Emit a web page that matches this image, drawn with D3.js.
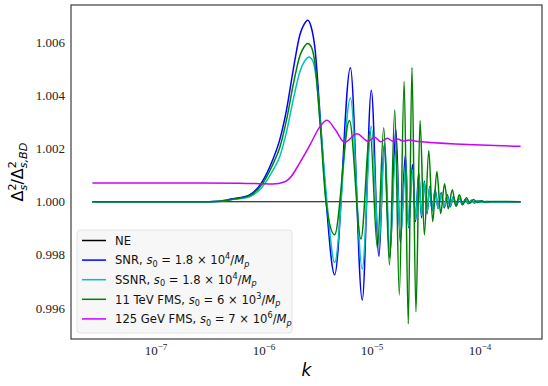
<!DOCTYPE html>
<html>
<head>
<meta charset="utf-8">
<script src="https://cdn.jsdelivr.net/npm/d3@7"></script>
<style>
    html, body { margin: 0; padding: 0; background: #fff; }
    svg { display: block; }
</style>
</head>
<body>
<div id="chart"></div>
<script>
// values: k and Delta_s^2 / Delta_{s,BD}^2

const kNE = [2.6e-8, 2.4e-4];
const vNE = [1.0, 1.0];

const kSNR = [2.6e-8, 2.53e-7, 3.89e-7, 5.14e-7, 7.41e-7, 9.59e-7, 1.216e-6, 1.413e-6, 1.633e-6, 1.884e-6,
    2.173e-6, 2.371e-6, 2.564e-6, 2.754e-6, 2.999e-6, 3.342e-6, 3.802e-6,
    4.55e-6, 6.37e-6, 8.20e-6, 9.95e-6, 1.172e-5, 1.309e-5, 1.476e-5, 1.679e-5, 1.849e-5, 2.056e-5,
    2.203e-5, 2.393e-5, 2.553e-5, 2.735e-5, 2.904e-5, 3.083e-5, 3.266e-5, 3.451e-5, 3.638e-5, 3.881e-5,
    4.140e-5, 4.416e-5, 4.710e-5, 5.023e-5, 5.358e-5, 5.715e-5, 6.095e-5, 6.501e-5, 6.934e-5, 7.396e-5,
    7.889e-5, 8.414e-5, 8.974e-5, 9.57e-5, 1.044e-4, 2.4e-4];
const vSNR = [1.0, 1.0, 1.00002, 1.00011, 1.00026, 1.00072, 1.00158, 1.00234, 1.00347, 1.00498,
    1.00630, 1.00668, 1.00684, 1.00660, 1.00574, 1.00321, 1.00000,
    0.99725, 1.00505, 0.99630, 1.00420, 0.99794, 1.00215, 0.99789, 1.00274, 0.99845, 1.00177,
    0.99902, 1.00140, 0.99925, 1.00109, 0.99940, 1.00077, 0.99955, 1.00057, 0.99966, 1.00045,
    0.99974, 1.00034, 0.99977, 1.00026, 0.99981, 1.00019, 0.99985, 1.00013, 0.99989, 1.00009,
    0.99992, 1.00006, 0.99995, 1.00003, 1.0, 1.0];

const kSSNR = [2.6e-8, 2.53e-7, 3.89e-7, 5.14e-7, 7.41e-7, 9.59e-7, 1.216e-6, 1.413e-6, 1.633e-6, 1.884e-6,
    2.173e-6, 2.421e-6, 2.636e-6, 2.844e-6, 3.069e-6, 3.412e-6, 3.882e-6,
    4.55e-6, 6.37e-6, 8.20e-6, 9.95e-6, 1.172e-5, 1.324e-5, 1.476e-5, 1.679e-5, 1.849e-5, 2.08e-5,
    2.203e-5, 2.393e-5, 2.553e-5, 2.754e-5, 2.904e-5, 3.083e-5, 3.266e-5, 3.451e-5, 3.638e-5, 3.881e-5,
    4.140e-5, 4.416e-5, 4.710e-5, 5.023e-5, 5.358e-5, 5.715e-5, 6.095e-5, 6.501e-5, 6.934e-5, 7.396e-5,
    7.889e-5, 8.414e-5, 8.974e-5, 9.57e-5, 1.044e-4, 1.161e-4, 1.294e-4, 2.4e-4];
const vSSNR = [1.0, 1.0, 1.00001, 1.00008, 1.00019, 1.00053, 1.00117, 1.0017, 1.00264, 1.00385,
    1.00491, 1.00532, 1.00545, 1.00532, 1.00468, 1.0026, 0.99992,
    0.99771, 1.00391, 0.99747, 1.00284, 0.99838, 1.00221, 0.99819, 1.00190, 0.99868, 1.00140,
    0.99906, 1.00121, 0.99932, 1.00094, 0.99947, 1.00072, 0.99958, 1.00054, 0.99968, 1.00040,
    0.99975, 1.00030, 0.99980, 1.00022, 0.99984, 1.00016, 0.99988, 1.00012, 0.99991, 1.00008,
    0.99994, 1.00005, 0.99996, 1.00003, 0.99998, 1.00002, 0.99999, 1.0];

const kFMS11 = [2.6e-8, 2.53e-7, 3.89e-7, 5.14e-7, 7.41e-7, 9.59e-7, 1.216e-6, 1.413e-6, 1.633e-6, 1.884e-6,
    2.173e-6, 2.371e-6, 2.564e-6, 2.754e-6, 2.999e-6, 3.342e-6, 3.802e-6,
    4.55e-6, 6.24e-6, 7.98e-6, 9.70e-6, 1.132e-5, 1.297e-5, 1.466e-5, 1.641e-5, 1.807e-5, 2.004e-5,
    2.188e-5, 2.366e-5, 2.576e-5, 2.812e-5, 3.083e-5, 3.388e-5, 3.681e-5, 4.027e-5, 4.365e-5, 4.742e-5,
    5.129e-5, 5.598e-5, 6.026e-5, 6.501e-5, 7.015e-5, 7.568e-5, 8.147e-5, 8.79e-5, 9.57e-5, 1.044e-4,
    1.138e-4, 1.294e-4, 2.4e-4];
const vFMS11 = [1.0, 1.0, 1.00002, 1.00009, 1.00023, 1.00064, 1.0014, 1.00204, 1.00309, 1.00442,
    1.00551, 1.00583, 1.00596, 1.00585, 1.00517, 1.00291, 0.99992,
    0.99876, 1.00306, 0.99860, 1.00265, 0.99826, 1.00279, 0.99762, 1.00347, 0.99649, 1.00453,
    0.99540, 1.00506, 0.99585, 1.00306, 0.99875, 1.00193, 0.99925, 1.00114, 0.99955, 1.00068,
    0.99974, 1.00045, 0.99983, 1.00026, 0.99990, 1.00015, 0.99994, 1.00008, 0.99997, 1.00004,
    0.99998, 1.00001, 1.0];

const kFMS125 = [2.6e-8, 2.53e-7, 5.98e-7, 9.20e-7, 1.216e-6, 1.574e-6, 1.75e-6, 2.17e-6, 2.70e-6, 3.34e-6,
    3.86e-6, 4.61e-6, 5.64e-6, 7.36e-6, 9.25e-6, 1.074e-5, 1.213e-5, 1.403e-5, 1.574e-5, 1.75e-5,
    1.95e-5, 2.22e-5, 2.576e-5, 2.4e-4];
const vFMS125 = [1.00071, 1.00071, 1.00070, 1.00068, 1.000665, 1.00075, 1.00089, 1.00147, 1.00215, 1.00284,
    1.00307, 1.00272, 1.00224, 1.00256, 1.00228, 1.00243, 1.00226, 1.00239, 1.00228, 1.00236,
    1.00229, 1.00233, 1.00228, 1.00209];

const xTicks = [1e-7, 1e-6, 1e-5, 1e-4];
const xTickExp = ['\u22127', '\u22126', '\u22125', '\u22124'];
const yTicks = [0.996, 0.998, 1.000, 1.002, 1.004, 1.006];

// legend labels as pieces of math text
const labelNE = [{ t: 'NE' }];
const labelSNR = [{ t: 'SNR,  ' }, { t: 's', it: true }, { t: '0', sub: true }, { t: ' = 1.8 \u00d7 10' }, { t: '4', sup: true }, { t: '/' }, { t: 'M', it: true }, { t: 'p', sub: true, it: true }];
const labelSSNR = [{ t: 'SSNR,  ' }, { t: 's', it: true }, { t: '0', sub: true }, { t: ' = 1.8 \u00d7 10' }, { t: '4', sup: true }, { t: '/' }, { t: 'M', it: true }, { t: 'p', sub: true, it: true }];
const labelFMS11 = [{ t: '11 TeV FMS,  ' }, { t: 's', it: true }, { t: '0', sub: true }, { t: ' = 6 \u00d7 10' }, { t: '3', sup: true }, { t: '/' }, { t: 'M', it: true }, { t: 'p', sub: true, it: true }];
const labelFMS125 = [{ t: '125 GeV FMS,  ' }, { t: 's', it: true }, { t: '0', sub: true }, { t: ' = 7 \u00d7 10' }, { t: '6', sup: true }, { t: '/' }, { t: 'M', it: true }, { t: 'p', sub: true, it: true }];

const series = [
    { k: kNE, v: vNE, color: '#000000', width: 1.2, label: labelNE },
    { k: kSNR, v: vSNR, color: '#0000ff', width: 1.5, label: labelSNR },
    { k: kSSNR, v: vSSNR, color: '#00c0c0', width: 1.5, label: labelSSNR },
    { k: kFMS11, v: vFMS11, color: '#008000', width: 1.5, label: labelFMS11 },
    { k: kFMS125, v: vFMS125, color: '#cc00ff', width: 1.5, label: labelFMS125 },
];

const dimensions = {
    width: 548,
    height: 386,
    marginTop: 5,
    marginRight: 6,
    marginBottom: 47,
    marginLeft: 71,
};

const sansFont = "'DejaVu Sans', sans-serif";
const serifFont = "'Liberation Serif', 'DejaVu Serif', serif";

/* write text with sub/superscripts as tspans */
const addMath = (text, parts, size) => {
    let shift = 0;
    parts.forEach(p => {
        const target = p.sub ? 0.22 * size : p.sup ? -0.42 * size : 0;
        const ts = text.append('tspan').text(p.t).attr('dy', target - shift);
        if (p.sub || p.sup) ts.attr('font-size', size * 0.7);
        if (p.it) ts.attr('font-style', 'italic');
        if (p.dx) ts.attr('dx', p.dx);
        shift = target;
    });
};

const draw = () => {
    const svg = d3
        .select('#chart')
        .append('svg')
        .attr('width', dimensions.width)
        .attr('height', dimensions.height)
        .attr('viewBox', `0 0 ${dimensions.width} ${dimensions.height}`);

    const left = dimensions.marginLeft;
    const right = dimensions.width - dimensions.marginRight;
    const top = dimensions.marginTop;
    const bottom = dimensions.height - dimensions.marginBottom;

    /* matplotlib style 5% margins around the data */
    const allK = series.flatMap(s => s.k);
    const allV = series.flatMap(s => s.v);
    const [kMin, kMax] = d3.extent(allK);
    const [vMin, vMax] = d3.extent(allV);
    const lk0 = Math.log10(kMin);
    const lk1 = Math.log10(kMax);
    const padK = (lk1 - lk0) * 0.05;
    const padV = (vMax - vMin) * 0.05;

    const xScale = d3
        .scaleLog()
        .domain([Math.pow(10, lk0 - padK), Math.pow(10, lk1 + padK)])
        .range([left, right]);

    const yScale = d3
        .scaleLinear()
        .domain([vMin - padV, vMax + padV])
        .range([bottom, top]);

    svg.append('defs')
        .append('clipPath')
        .attr('id', 'plot-clip')
        .append('rect')
        .attr('x', left)
        .attr('y', top)
        .attr('width', right - left)
        .attr('height', bottom - top);

    const lineGenerator = d3
        .line()
        .x(d => xScale(d[0]))
        .y(d => yScale(d[1]))
        .curve(d3.curveMonotoneX);

    const lines = svg.append('g').attr('clip-path', 'url(#plot-clip)');

    series.forEach(s => {
        lines
            .append('path')
            .datum(d3.zip(s.k, s.v))
            .attr('d', lineGenerator)
            .attr('fill', 'none')
            .attr('stroke', s.color)
            .attr('stroke-width', s.width)
            .attr('stroke-linejoin', 'round');
    });

    // --------------- axes ---------------------------------------

    const yAxis = d3
        .axisLeft(yScale)
        .tickValues(yTicks)
        .tickSize(0)
        .tickPadding(6)
        .tickFormat(d3.format('.3f'));

    const gYAxis = svg.append('g').attr('transform', `translate(${left}, 0)`).call(yAxis);
    gYAxis.select('.domain').remove();
    gYAxis
        .selectAll('.tick text')
        .attr('font-family', serifFont)
        .attr('font-size', 13)
        .attr('fill', '#222');

    const xAxis = d3.axisBottom(xScale).tickValues(xTicks).tickSize(0).tickFormat('');

    const gXAxis = svg.append('g').attr('transform', `translate(0, ${bottom})`).call(xAxis);
    gXAxis.select('.domain').remove();
    gXAxis.selectAll('.tick text').remove();
    gXAxis.selectAll('.tick').each(function (d, i) {
        const t = d3
            .select(this)
            .append('text')
            .attr('y', 16)
            .attr('text-anchor', 'middle')
            .attr('font-family', serifFont)
            .attr('font-size', 13)
            .attr('fill', '#222');
        addMath(t, [{ t: '10' }, { t: xTickExp[i], sup: true }], 13);
    });

    /* frame */
    svg.append('rect')
        .attr('x', left)
        .attr('y', top)
        .attr('width', right - left)
        .attr('height', bottom - top)
        .attr('fill', 'none')
        .attr('stroke', '#3c3c3c')
        .attr('stroke-width', 1.2);

    /* axis labels */
    svg.append('text')
        .attr('x', (left + right) / 2)
        .attr('y', 376)
        .attr('text-anchor', 'middle')
        .attr('font-family', sansFont)
        .attr('font-style', 'italic')
        .attr('font-size', 17)
        .text('k');

    const yLabelSize = 16;
    const supW = -0.636 * 0.7 * yLabelSize;
    const yLabel = svg
        .append('text')
        .attr('transform', `translate(23, ${(top + bottom) / 2}) rotate(-90)`)
        .attr('text-anchor', 'middle')
        .attr('font-family', sansFont)
        .attr('font-size', yLabelSize);
    addMath(
        yLabel,
        [
            { t: '\u0394' },
            { t: '2', sup: true },
            { t: 's', sub: true, it: true, dx: supW },
            { t: '/\u0394' },
            { t: '2', sup: true },
            { t: 's,BD', sub: true, it: true, dx: supW },
        ],
        yLabelSize
    );

    // --------------- legend ---------------------------------------

    const legend = svg.append('g');
    legend
        .append('rect')
        .attr('x', 77)
        .attr('y', 230)
        .attr('width', 215)
        .attr('height', 103)
        .attr('rx', 3)
        .attr('fill', '#f7f7f7')
        .attr('stroke', '#e4e4e4')
        .attr('stroke-width', 1);

    series.forEach((s, i) => {
        const yRow = 240.5 + i * 19.6;
        legend
            .append('line')
            .attr('x1', 82)
            .attr('x2', 106)
            .attr('y1', yRow)
            .attr('y2', yRow)
            .attr('stroke', s.color)
            .attr('stroke-width', 1.5);
        const t = legend
            .append('text')
            .attr('x', 115)
            .attr('y', yRow + 4.2)
            .attr('font-family', sansFont)
            .attr('font-size', 11.6)
            .attr('fill', '#111');
        addMath(t, s.label, 11.6);
    });
};

draw();
</script>
</body>
</html>
